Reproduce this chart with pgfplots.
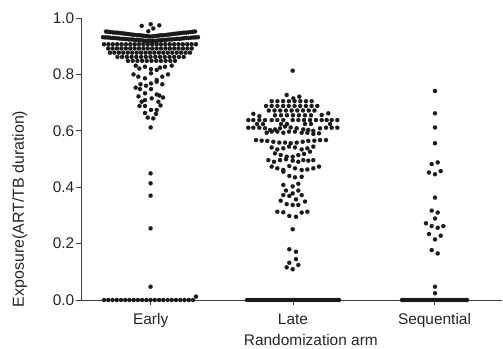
\documentclass[border=0pt]{standalone}
\usepackage{pgfplots}
\pgfplotsset{compat=1.18}
\usepackage{fontspec}
\setmainfont{Liberation Sans}
\definecolor{dotc}{HTML}{1A1A1A}
\definecolor{axc}{HTML}{404040}
\pgfplotsset{dots/.style={only marks, mark=*, mark size=2.1bp, color=dotc, mark options={fill=dotc, draw=dotc, line width=0.1bp}}}
\begin{document}
\begin{tikzpicture}
\begin{axis}[
  scale only axis, width=421bp, height=282bp,
  xmin=81, xmax=502, ymin=0, ymax=1,
  axis lines*=left,
  axis line style={axc, line width=0.9bp},
  every tick/.style={axc, line width=0.9bp},
  tick align=outside, major tick length=5bp,
  xtick={150.7,293,434.5}, xticklabels={Early,Late,Sequential},
  ytick={0,0.2,0.4,0.6,0.8,1.0},
  /pgf/number format/fixed, /pgf/number format/fixed zerofill, /pgf/number format/precision=1, /pgf/number format/assume math mode=true,
  tick label style={font=\fontsize{15.5}{18}\selectfont, text=black!85},
  xticklabel style={yshift=-5bp},
  yticklabel style={inner sep=1.5bp},
  clip=false,
]
% Early: top scatter
\addplot[dots] coordinates {(141.7,0.972)(150.7,0.978)(159.3,0.974)(148.3,0.953)(153.3,0.963)};
% Early: band 1
\addplot[dots] coordinates {(106.0,0.952)(108.2,0.951)(110.5,0.950)(112.7,0.949)(114.9,0.948)(117.1,0.948)(119.4,0.947)(121.6,0.946)(123.8,0.945)(126.0,0.944)(128.3,0.943)(130.5,0.942)(132.7,0.941)(134.9,0.940)(137.2,0.939)(139.4,0.939)(141.6,0.938)(143.8,0.937)(146.1,0.936)(148.3,0.935)(150.5,0.934)(152.7,0.935)(154.9,0.936)(157.2,0.937)(159.4,0.938)(161.6,0.939)(163.8,0.939)(166.1,0.940)(168.3,0.941)(170.5,0.942)(172.7,0.943)(174.9,0.944)(177.2,0.945)(179.4,0.946)(181.6,0.947)(183.8,0.948)(186.1,0.948)(188.3,0.949)(190.5,0.950)(192.7,0.951)(195.0,0.952)};
% Early: band 2
\addplot[dots] coordinates {(103.0,0.932)(105.4,0.931)(107.8,0.931)(110.1,0.930)(112.5,0.929)(114.9,0.929)(117.3,0.928)(119.6,0.927)(122.0,0.926)(124.4,0.926)(126.8,0.925)(129.1,0.924)(131.5,0.924)(133.9,0.923)(136.3,0.922)(138.6,0.922)(141.0,0.921)(143.4,0.920)(145.8,0.919)(148.1,0.919)(150.5,0.918)(152.9,0.919)(155.3,0.919)(157.6,0.920)(160.0,0.921)(162.4,0.922)(164.8,0.922)(167.1,0.923)(169.5,0.924)(171.9,0.924)(174.3,0.925)(176.6,0.926)(179.0,0.926)(181.4,0.927)(183.8,0.928)(186.1,0.929)(188.5,0.929)(190.9,0.930)(193.3,0.931)(195.6,0.931)(198.0,0.932)};
% Early: rows
\addplot[dots] coordinates {(104,0.907)(108.4,0.907)(112.8,0.907)(117.1,0.907)(121.5,0.907)(125.9,0.907)(130.3,0.907)(134.7,0.907)(139,0.907)(143.4,0.907)(147.8,0.907)(152.2,0.907)(156.6,0.907)(160.9,0.907)(165.3,0.907)(169.7,0.907)(174.1,0.907)(178.5,0.907)(182.8,0.907)(187.2,0.907)(191.6,0.907)(196,0.907)};
\addplot[dots] coordinates {(108.2,0.892)(112.6,0.892)(117,0.892)(121.4,0.892)(125.8,0.892)(130.2,0.892)(134.6,0.892)(139,0.892)(143.4,0.892)(147.8,0.892)(152.2,0.892)(156.6,0.892)(161,0.892)(165.4,0.892)(169.8,0.892)(174.2,0.892)(178.6,0.892)(183,0.892)(187.4,0.892)(191.8,0.892)};
\addplot[dots] coordinates {(110,0.877)(114.4,0.877)(118.9,0.877)(123.3,0.877)(127.8,0.877)(132.2,0.877)(136.7,0.877)(141.1,0.877)(145.6,0.877)(150,0.877)(154.4,0.877)(158.9,0.877)(163.3,0.877)(167.8,0.877)(172.2,0.877)(176.7,0.877)(181.1,0.877)(185.6,0.877)(190,0.877)};
\addplot[dots] coordinates {(117.4,0.862)(122.1,0.862)(126.9,0.862)(131.6,0.862)(136.3,0.862)(141.1,0.862)(145.8,0.862)(150.5,0.862)(155.3,0.862)(160,0.862)(164.7,0.862)(169.5,0.862)(174.2,0.862)(178.9,0.862)(183.7,0.862)};
\addplot[dots] coordinates {(128,0.848)(132.7,0.848)(137.4,0.848)(142.1,0.848)(146.8,0.848)(151.5,0.848)(156.2,0.848)(160.9,0.848)(165.6,0.848)(170.3,0.848)(175,0.848)};
% Early: funnel and tail
\addplot[dots] coordinates {(135.7,0.831)(139.3,0.821)(145,0.827)(151,0.819)(156.7,0.816)(160,0.824)(165,0.827)(171.7,0.831)
(133.5,0.800)(138.3,0.792)(145,0.786)(151,0.804)(156.7,0.780)(162.3,0.792)(168,0.800)
(140.5,0.765)(146,0.760)(151,0.768)(156.7,0.774)(162.3,0.765)
(135.7,0.753)(140,0.748)(145,0.733)(151,0.748)(156.7,0.729)(159.3,0.725)
(138.5,0.722)(163,0.718)
(145,0.709)(151.7,0.715)(158.3,0.703)(141.7,0.703)
(139.5,0.688)(145,0.688)(151,0.674)(156.7,0.674)(160.5,0.690)
(145,0.663)(156,0.660)
(147.7,0.647)(153.3,0.644)(150.7,0.612)
(150.6,0.449)(150.6,0.414)(150.6,0.370)(150.6,0.254)(150.6,0.047)(196,0.012)};
% Early: zeros
\addplot[dots] coordinates {(104,0)(108.2,0)(112.5,0)(116.7,0)(121,0)(125.2,0)(129.4,0)(133.7,0)(137.9,0)(142.1,0)(146.4,0)(150.6,0)(154.8,0)(159.1,0)(163.3,0)(167.6,0)(171.8,0)(176,0)(180.3,0)(184.5,0)(188.8,0)(193,0)};
% Late
\addplot[dots] coordinates {(292.7,0.813)(286.7,0.727)(293.3,0.715)(299.3,0.721)
(271.7,0.705)(277.4,0.705)(283.1,0.705)(288.9,0.705)(294.6,0.705)(300.3,0.705)(306,0.705)(311.7,0.705)
(266,0.688)(271.7,0.688)(277.4,0.688)(283.1,0.688)(288.8,0.688)(294.5,0.688)(300.2,0.688)(305.9,0.688)(311.6,0.688)(317.3,0.688)
(268.8,0.672)(274.5,0.672)(280.2,0.672)(285.9,0.672)(291.6,0.672)(297.3,0.672)(303,0.672)(308.7,0.672)(314.4,0.672)
(253.3,0.660)(259.3,0.652)(321.7,0.656)(328.3,0.662)
(275,0.655)(281,0.655)(287,0.655)(293,0.655)(299,0.655)(305,0.655)(311,0.655)
(248.3,0.638)(253.3,0.638)(259.3,0.638)(265,0.638)(271.7,0.638)(277.3,0.638)(283.3,0.638)(292.7,0.638)(298.3,0.638)(304,0.638)(310,0.638)(316,0.638)(321.7,0.638)(326.7,0.638)(331.7,0.638)(337.3,0.638)
(257,0.624)(263,0.624)(281,0.624)(287,0.624)(305,0.624)(311,0.624)(330,0.624)
(248.3,0.611)(253.3,0.611)(259.3,0.611)(265,0.609)(270,0.603)(275,0.605)(280,0.609)(285,0.615)(290.7,0.612)(296.7,0.609)(303.3,0.605)(308.3,0.603)(313.3,0.600)(320,0.609)(326,0.611)(331.7,0.611)(337.3,0.611)
(266.7,0.593)(271.7,0.597)(277.3,0.597)(283.3,0.593)(289,0.597)(295,0.597)(301.7,0.593)(307.3,0.593)(313.3,0.589)(319,0.591)
(256,0.567)(261.7,0.565)(267.3,0.564)(273.3,0.561)(279.3,0.558)(285,0.558)(290.7,0.556)(296.7,0.558)(302.7,0.561)(308.3,0.564)(314.3,0.565)(320,0.567)(326,0.567)
(271.7,0.541)(277.3,0.534)(283.3,0.538)(289,0.544)(295,0.541)(301.7,0.534)(307.3,0.538)(313.3,0.544)
(275,0.520)(280.7,0.514)(286.7,0.508)(292.7,0.508)(298.3,0.514)(304,0.518)(310,0.526)
(268.3,0.496)(274,0.490)(280,0.496)(286,0.499)(292.7,0.494)(298.3,0.490)(303.3,0.496)(308.3,0.494)(313.3,0.496)
(271.7,0.473)(277.3,0.467)(283.3,0.461)(289.3,0.475)(295,0.467)(301.7,0.461)(307.3,0.463)(313.3,0.467)(319,0.473)
(283.3,0.455)(289.3,0.440)(295,0.435)(301.7,0.437)
(283.3,0.408)(292.7,0.403)(298.3,0.412)
(286,0.388)(292.7,0.378)(298.3,0.388)(283.3,0.372)(289.3,0.369)(301.7,0.372)
(280.7,0.352)(286.7,0.340)(292.7,0.337)(298.3,0.337)(305,0.349)(296,0.357)
(277.3,0.313)(283.3,0.311)(289.3,0.298)(296,0.295)(301.7,0.310)(307.3,0.313)
(292.7,0.251)(289.3,0.180)(296,0.171)(296,0.145)
(289.3,0.132)(298.3,0.124)(286.7,0.116)(292.7,0.109)};
% Late: zeros
\addplot[dots] coordinates {(247,0)(249,0)(251,0)(253,0)(255,0)(257,0)(259,0)(261,0)(263,0)(265,0)(267,0)(269,0)(271,0)(273,0)(275,0)(277,0)(279,0)(281,0)(283,0)(285,0)(287,0)(289,0)(291,0)(293,0)(295,0)(297,0)(299,0)(301,0)(303,0)(305,0)(307,0)(309,0)(311,0)(313,0)(315,0)(317,0)(319,0)(321,0)(323,0)(325,0)(327,0)(329,0)(331,0)(333,0)(335,0)(337,0)(339,0)};
% Sequential
\addplot[dots] coordinates {(435,0.741)(435,0.662)(435,0.612)(435,0.556)(431.7,0.482)(437.7,0.488)(429,0.452)(435,0.446)(440.7,0.457)(435,0.363)(431.7,0.317)(437.7,0.310)(435,0.289)(426,0.272)(431.7,0.262)(437.7,0.256)(443.3,0.262)(429,0.234)(435,0.215)(440.7,0.228)(431.7,0.177)(437.7,0.165)(435,0.047)(435,0.024)};
% Sequential: zeros
\addplot[dots] coordinates {(402,0)(404,0)(406,0)(408,0)(410,0)(412,0)(414,0)(416,0)(418,0)(420,0)(422,0)(424,0)(426,0)(428,0)(430,0)(432,0)(434,0)(436,0)(438,0)(440,0)(442,0)(444,0)(446,0)(448,0)(450,0)(452,0)(454,0)(456,0)(458,0)(460,0)(462,0)(464,0)(466,0)(467,0)};
\node[font=\fontsize{15.5}{18}\selectfont, anchor=base, text=black!85] at (axis description cs:0.546,-0.16) {Randomization arm};
\node[font=\fontsize{16}{18}\selectfont, anchor=base, rotate=90, text=black!85] at (axis description cs:-0.1354,0.323) {Exposure(ART/TB duration)};
\path (axis description cs:-0.19240,-0.17376) rectangle (axis description cs:1.002375,1.06383);
\end{axis}
\end{tikzpicture}
\end{document}
